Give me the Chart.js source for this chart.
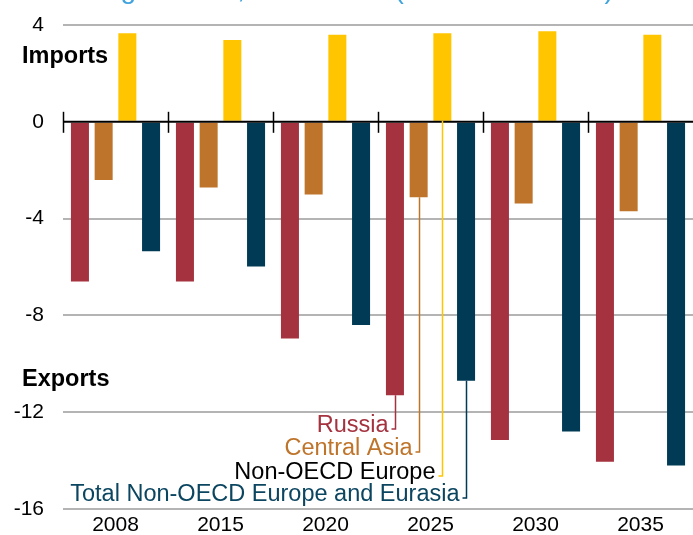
<!DOCTYPE html>
<html>
<head>
<meta charset="utf-8">
<script src="https://cdn.jsdelivr.net/npm/chart.js@4.4.1/dist/chart.umd.min.js"></script>
<style>
  html, body { margin: 0; padding: 0; background: #fff; }
  #wrap { width: 693px; height: 535px; }
</style>
</head>
<body>
<div id="wrap"><canvas id="tradeChart"></canvas></div>
<script>
// Données (trillion cubic feet)
const years = ['2008', '2015', '2020', '2025', '2030', '2035'];
const russia = [-6.6, -6.6, -8.95, -11.3, -13.15, -14.05];
const centralAsia = [-2.4, -2.72, -3.0, -3.12, -3.38, -3.7];
const nonOecdEurope = [3.66, 3.38, 3.6, 3.66, 3.74, 3.6];
const totalRegion = [-5.35, -5.98, -8.4, -10.7, -12.8, -14.2];
const yTicks = [4, 0, -4, -8, -12, -16];

const seriesNames = ['Russia', 'Central Asia', 'Non-OECD Europe', 'Total Non-OECD Europe and Eurasia'];
const colors = ['#A5323F', '#BE742A', '#FFC600', '#003A54'];

const FONT = '"Liberation Sans", Arial, sans-serif';

// Titre coupé, lignes du zéro, étiquettes et légende à repères
const decorPlugin = {
    id: 'decor',
    beforeDraw(chart) {
        const ctx = chart.ctx;
        ctx.save();
        ctx.fillStyle = '#41A4DD';
        ctx.font = '28px ' + FONT;
        ctx.textAlign = 'left';
        ctx.textBaseline = 'alphabetic';
        ctx.fillText('natural gas trade, 2008-2035 (trillion cubic feet)', 27, -2);
        ctx.restore();
    },
    afterDatasetsDraw(chart) {
        const ctx = chart.ctx;
        const x = chart.scales.x;
        const y = chart.scales.y;
        const y0 = y.getPixelForValue(0);
        const half = (x.getPixelForValue(1) - x.getPixelForValue(0)) / 2;

        ctx.save();
        // ligne du zéro
        ctx.strokeStyle = '#000';
        ctx.lineWidth = 2;
        ctx.beginPath();
        ctx.moveTo(chart.chartArea.left, y0);
        ctx.lineTo(chart.chartArea.right, y0);
        ctx.stroke();
        // séparateurs de catégories
        ctx.lineWidth = 1.5;
        years.forEach((yr, i) => {
            const px = Math.round(x.getPixelForValue(i) - half) + 0.5;
            ctx.beginPath();
            ctx.moveTo(px, y0 - 10);
            ctx.lineTo(px, y0 + 11);
            ctx.stroke();
        });

        // Imports / Exports
        ctx.fillStyle = '#000';
        ctx.font = 'bold 23.5px ' + FONT;
        ctx.textAlign = 'left';
        ctx.textBaseline = 'middle';
        ctx.fillText('Imports', 22, 57);
        ctx.fillText('Exports', 22, 380);

        // légende avec traits de rappel sur 2025
        const idx = 3;
        const ends = [429, 452, 476, 498];
        const textColors = [colors[0], colors[1], '#000', '#0B4560'];
        ctx.font = '23.5px ' + FONT;
        ctx.textAlign = 'right';
        seriesNames.forEach((name, d) => {
            const bar = chart.getDatasetMeta(d).data[idx];
            const lx = Math.round(bar.x) + 0.5;
            const startY = Math.max(bar.y, bar.base);
            ctx.strokeStyle = colors[d];
            ctx.lineWidth = 1.5;
            ctx.beginPath();
            ctx.moveTo(lx, startY);
            ctx.lineTo(lx, ends[d]);
            ctx.lineTo(lx - 4, ends[d]);
            ctx.stroke();
            ctx.fillStyle = textColors[d];
            ctx.fillText(name, lx - 7, ends[d] - 3);
        });
        ctx.restore();
    }
};

document.addEventListener('DOMContentLoaded', function () {
    const ctx = document.getElementById('tradeChart');
    const datasets = [russia, centralAsia, nonOecdEurope, totalRegion].map((vals, i) => ({
        label: seriesNames[i],
        data: vals,
        backgroundColor: colors[i],
        borderWidth: 0,
        categoryPercentage: 0.903,
        barPercentage: 0.76
    }));

    new Chart(ctx.getContext('2d'), {
        type: 'bar',
        data: { labels: years, datasets: datasets },
        options: {
            responsive: true,
            maintainAspectRatio: false,
            animation: false,
            layout: { padding: { top: 25, left: 0, right: 0, bottom: 0 } },
            plugins: {
                legend: { display: false },
                tooltip: { enabled: false }
            },
            scales: {
                x: {
                    grid: { display: false, drawTicks: false },
                    border: { display: false },
                    ticks: {
                        color: '#000',
                        font: { family: FONT, size: 21 },
                        padding: 4,
                        maxRotation: 0
                    },
                    afterFit(scale) { scale.height = 26; }
                },
                y: {
                    min: -16,
                    max: 4,
                    afterBuildTicks(scale) {
                        scale.ticks = yTicks.map(v => ({ value: v }));
                    },
                    grid: {
                        drawTicks: true,
                        tickLength: 17,
                        tickColor: 'rgba(0,0,0,0)',
                        color: c => (c.tick && c.tick.value === 0) ? 'rgba(0,0,0,0)' : '#B4B4B4',
                        lineWidth: 2
                    },
                    border: { display: false },
                    ticks: {
                        color: '#000',
                        font: { family: FONT, size: 21 },
                        padding: 2
                    },
                    afterFit(scale) { scale.width = 63; }
                }
            }
        },
        plugins: [decorPlugin]
    });
});
</script>
</body>
</html>
